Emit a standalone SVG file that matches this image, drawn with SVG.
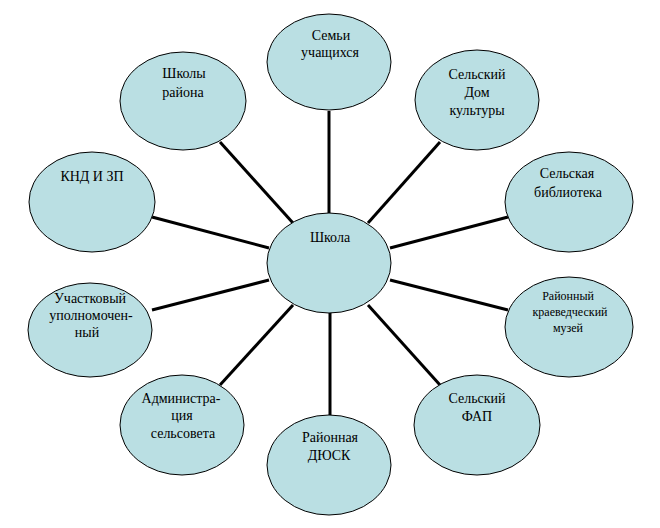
<svg xmlns="http://www.w3.org/2000/svg" width="660" height="528" viewBox="0 0 660 528" font-family="Liberation Serif, DejaVu Serif, serif">
<style>
.n{fill:#BADFE3;stroke:#000;stroke-width:1}
.c line{stroke:#000;stroke-width:3}
text{font-family:'Liberation Serif','DejaVu Serif',serif;font-size:14px;fill:#000;text-anchor:middle}
.s{font-size:12px}
</style>
<rect width="660" height="528" fill="#fff"/>
<g id="connectors" class="c">
<line x1="220" y1="142" x2="293" y2="223"/>
<line x1="329" y1="111" x2="329" y2="214"/>
<line x1="440" y1="142" x2="368" y2="223"/>
<line x1="508" y1="217" x2="390" y2="248"/>
<line x1="152" y1="217" x2="269" y2="248"/>
<line x1="152" y1="310" x2="269" y2="280"/>
<line x1="390" y1="280" x2="508" y2="310"/>
<line x1="293" y1="305" x2="220" y2="385"/>
<line x1="330" y1="312" x2="330" y2="415"/>
<line x1="368" y1="305" x2="440" y2="385"/>
</g>
<g id="school"><ellipse class="n" cx="329" cy="263" rx="62" ry="50"/><text x="330" y="242">Школа</text></g>
<g id="families"><ellipse class="n" cx="329" cy="62" rx="62" ry="48"/><text x="331" y="40">Семьи</text><text x="330" y="57">учащихся</text></g>
<g id="culture"><ellipse class="n" cx="477" cy="100" rx="62" ry="50"/><text x="477" y="79">Сельский</text><text x="477" y="97">Дом</text><text x="477" y="115">культуры</text></g>
<g id="library"><ellipse class="n" cx="569" cy="202" rx="64" ry="50"/><text x="567" y="178">Сельская</text><text x="568" y="197">библиотека</text></g>
<g id="museum"><ellipse class="n" cx="569" cy="327" rx="64" ry="50"/><text class="s" x="568" y="300">Районный</text><text class="s" x="570" y="316">краеведческий</text><text class="s" x="568" y="332">музей</text></g>
<g id="fap"><ellipse class="n" cx="477" cy="425" rx="63" ry="50"/><text x="477" y="403">Сельский</text><text x="477" y="421">ФАП</text></g>
<g id="dyusk"><ellipse class="n" cx="329" cy="465" rx="62" ry="50"/><text x="330" y="442">Районная</text><text x="329" y="460">ДЮСК</text></g>
<g id="admin"><ellipse class="n" cx="182" cy="425" rx="62" ry="50"/><text x="181" y="403">Администра-</text><text x="182" y="420">ция</text><text x="183" y="438">сельсовета</text></g>
<g id="police"><ellipse class="n" cx="90" cy="330" rx="62" ry="47"/><text x="90" y="303">Участковый</text><text x="91" y="320">уполномочен-</text><text x="87" y="337">ный</text></g>
<g id="knd"><ellipse class="n" cx="92" cy="202" rx="63" ry="50"/><text x="92" y="181">КНД И ЗП</text></g>
<g id="schools"><ellipse class="n" cx="183" cy="101" rx="63" ry="49"/><text x="184" y="78">Школы</text><text x="183" y="97">района</text></g>
</svg>
